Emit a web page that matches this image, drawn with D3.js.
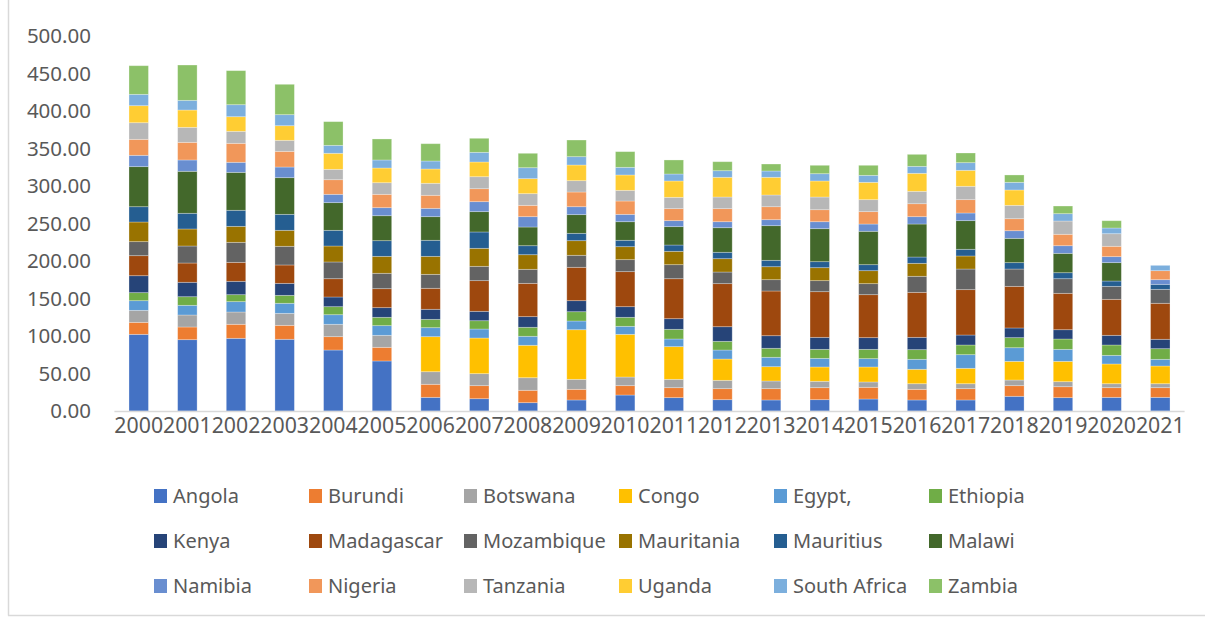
<!DOCTYPE html>
<html>
<head>
<meta charset="utf-8">
<script src="https://cdn.jsdelivr.net/npm/d3@7"></script>
<style>
  html, body { margin: 0; padding: 0; background: #fff; }
  svg { display: block; font-family: "Noto Sans", sans-serif; }
</style>
</head>
<body>
<svg id="chart" width="1205" height="617"></svg>
<script>
const years = ["2000","2001","2002","2003","2004","2005","2006","2007","2008","2009","2010",
               "2011","2012","2013","2014","2015","2016","2017","2018","2019","2020","2021"];

const countries = ["Angola","Burundi","Botswana","Congo","Egypt,","Ethiopia",
                   "Kenya","Madagascar","Mozambique","Mauritania","Mauritius","Malawi",
                   "Namibia","Nigeria","Tanzania","Uganda","South Africa","Zambia"];

const colors = ["#4472C4","#ED7D31","#A5A5A5","#FFC000","#5B9BD5","#70AD47",
                "#264478","#9E480E","#636363","#997300","#255E91","#43682B",
                "#698ED0","#F1975A","#B7B7B7","#FFCD33","#7CAFDD","#8CC168"];

const angola      = [102.2,95.1,96.9,95.6,81.3,66.7,18.2,16.4,11.1,14.7,21.3,17.8,15.1,14.7,15.1,16.0,14.7,14.7,19.6,17.8,18.2,18.2];
const burundi     = [16.0,16.9,18.7,18.6,17.8,18.2,17.4,17.4,16.5,14.2,12.5,13.3,14.7,15.1,16.0,15.6,14.2,15.1,14.2,14.6,12.9,12.9];
const botswana    = [16.0,16.0,16.4,16.0,16.5,16.0,16.8,16.0,16.8,13.3,11.5,11.1,11.1,10.2,8.5,7.1,7.5,6.6,7.5,6.7,5.3,5.3];
const congo       = [0,0,0,0,0,0,46.7,47.5,43.2,66.2,56.9,43.6,28.4,19.1,19.1,20.0,19.2,20.5,24.9,27.1,26.3,23.6];
const egypt       = [12.9,12.9,13.8,13.4,12.8,12.9,12.0,12.0,12.0,11.6,10.7,10.2,12.0,12.5,11.5,11.1,13.3,18.2,18.2,16.0,11.5,8.9];
const ethiopia    = [10.7,11.5,9.3,10.6,10.7,11.1,11.1,11.1,12.0,12.4,12.0,12.9,11.6,12.0,12.0,12.4,12.9,12.9,13.4,13.8,13.8,14.2];
const kenya       = [22.6,19.2,17.8,16.0,12.9,12.9,13.4,12.5,14.2,14.7,14.2,14.2,19.5,16.8,16.0,15.6,16.4,13.3,12.9,12.4,12.9,12.5];
const madagascar  = [26.7,25.7,25.3,24.5,24.4,25.3,28.0,40.9,44.4,44.5,46.7,53.3,57.4,59.6,60.9,57.3,60.0,60.5,55.5,48.5,48.0,48.0];
const mozambique  = [18.7,22.7,26.7,24.9,22.3,20.5,18.6,19.1,18.7,16.0,16.0,18.7,15.5,15.1,14.7,14.7,21.4,27.5,23.1,19.5,17.3,18.6];
const mauritania  = [26.2,22.7,21.3,21.3,21.3,22.6,24.0,24.0,19.5,19.5,17.3,17.8,17.8,17.3,17.3,17.3,17.3,17.4,0,0,0,0];
const mauritius   = [20.4,20.9,21.4,21.3,20.9,20.9,21.4,21.8,12.0,9.8,8.5,8.4,8.5,8.5,8.0,8.0,8.4,8.9,8.5,8.0,7.1,6.7];
const malawi      = [53.4,56.0,50.6,48.9,36.9,33.3,31.5,27.1,24.9,24.9,24.8,24.5,32.8,46.2,44.0,44.5,44.0,38.2,32.4,25.8,24.5,0];
const namibia     = [15.1,15.1,13.4,14.2,11.1,10.7,11.1,13.3,13.8,10.6,9.8,8.0,8.0,8.0,9.3,9.7,9.8,10.2,10.2,10.2,8.0,6.2];
const nigeria     = [21.3,23.5,25.3,20.9,19.5,17.8,17.4,17.3,15.1,19.6,17.8,16.0,17.4,17.3,16.0,16.5,17.3,17.8,16.0,15.2,13.8,12.0];
const tanzania    = [22.2,20.0,16.0,14.7,13.8,15.5,16.0,16.0,15.6,15.1,14.2,15.1,15.5,15.6,16.9,16.0,16.5,17.8,17.8,17.7,16.8,0];
const uganda      = [22.7,23.1,19.5,19.5,21.4,19.6,19.1,19.6,20.0,20.9,20.5,21.8,26.3,23.6,21.4,23.1,24.0,21.3,20.5,0,0,0];
const southAfrica = [15.1,12.9,16.0,14.7,10.6,10.7,10.6,12.9,14.6,11.1,10.2,9.3,8.8,8.4,9.7,9.3,9.3,10.2,10.2,9.8,7.6,7.1];
const zambia      = [38.2,47.1,45.4,40.5,31.6,28.0,23.1,18.7,19.2,22.2,20.9,18.7,12.0,9.3,11.2,13.4,16.0,12.9,9.8,10.2,9.7,0];

const yTicks = [0,50,100,150,200,250,300,350,400,450,500];

const seriesValues = [angola,burundi,botswana,congo,egypt,ethiopia,kenya,madagascar,mozambique,
                      mauritania,mauritius,malawi,namibia,nigeria,tanzania,uganda,southAfrica,zambia];

// one row per year, keyed by country, for d3.stack
const table = years.map((yr, i) => {
  const row = { year: yr };
  countries.forEach((c, k) => { row[c] = seriesValues[k][i]; });
  return row;
});

const svg = d3.select("#chart");
const textColor = "#595959";
const lineColor = "#D9D9D9";

// outer chart frame (left and bottom edges)
svg.append("line").attr("x1", 8.5).attr("x2", 8.5).attr("y1", 0).attr("y2", 615.5)
   .attr("stroke", lineColor).attr("stroke-width", 1.5);
svg.append("line").attr("x1", 8).attr("x2", 1205).attr("y1", 615.5).attr("y2", 615.5)
   .attr("stroke", lineColor).attr("stroke-width", 1.5);

const x = d3.scaleBand().domain(years).range([114.4, 1184.6]).paddingInner(0.6).paddingOuter(0.3);
const y = d3.scaleLinear().domain([0, 500]).range([411, 36]);

const stack = d3.stack().keys(countries);
const layers = stack(table);

const g = svg.append("g");
g.selectAll("g.layer")
  .data(layers)
  .join("g")
  .attr("class", "layer")
  .attr("fill", (d, i) => colors[i])
  .selectAll("rect")
  .data(d => d.filter(p => p[1] - p[0] > 0))
  .join("rect")
  .attr("x", d => x(d.data.year))
  .attr("width", x.bandwidth())
  .attr("y", d => y(d[1]))
  .attr("height", d => y(d[0]) - y(d[1]))
  .attr("stroke", "#ffffff")
  .attr("stroke-opacity", 0.35)
  .attr("stroke-width", 0.8);

// y axis labels (no axis line or gridlines)
const yAxis = d3.axisLeft(y).tickValues(yTicks).tickFormat(d3.format(".2f")).tickSize(0).tickPadding(0);
const yg = svg.append("g").attr("transform", "translate(91,0)").call(yAxis);
yg.select(".domain").remove();
yg.selectAll("text").attr("fill", textColor).attr("font-size", 20.5)
  .attr("font-family", "'Noto Sans', sans-serif");

// x axis
const xAxis = d3.axisBottom(x).tickSize(0).tickPadding(0);
const xg = svg.append("g").attr("transform", "translate(0,411)").call(xAxis);
xg.select(".domain").attr("stroke", lineColor).attr("stroke-width", 1.5)
  .attr("d", "M114.4,0.5H1184.6");
xg.selectAll("text").attr("fill", textColor).attr("font-size", 21.3)
  .attr("font-family", "'Noto Sans', sans-serif").attr("dy", "1.05em");

// legend: 6 columns x 3 rows
const legend = svg.append("g");
const colStep = 155, rowYs = [496, 541, 586];
countries.forEach((c, i) => {
  const col = i % 6, row = Math.floor(i / 6);
  const lx = 154 + col * colStep, ly = rowYs[row];
  legend.append("rect").attr("x", lx).attr("y", ly - 7).attr("width", 13).attr("height", 14)
        .attr("fill", colors[i]);
  legend.append("text").attr("x", lx + 19).attr("y", ly).attr("dy", "0.35em")
        .attr("fill", textColor).attr("font-size", 20).text(c);
});
</script>
</body>
</html>
